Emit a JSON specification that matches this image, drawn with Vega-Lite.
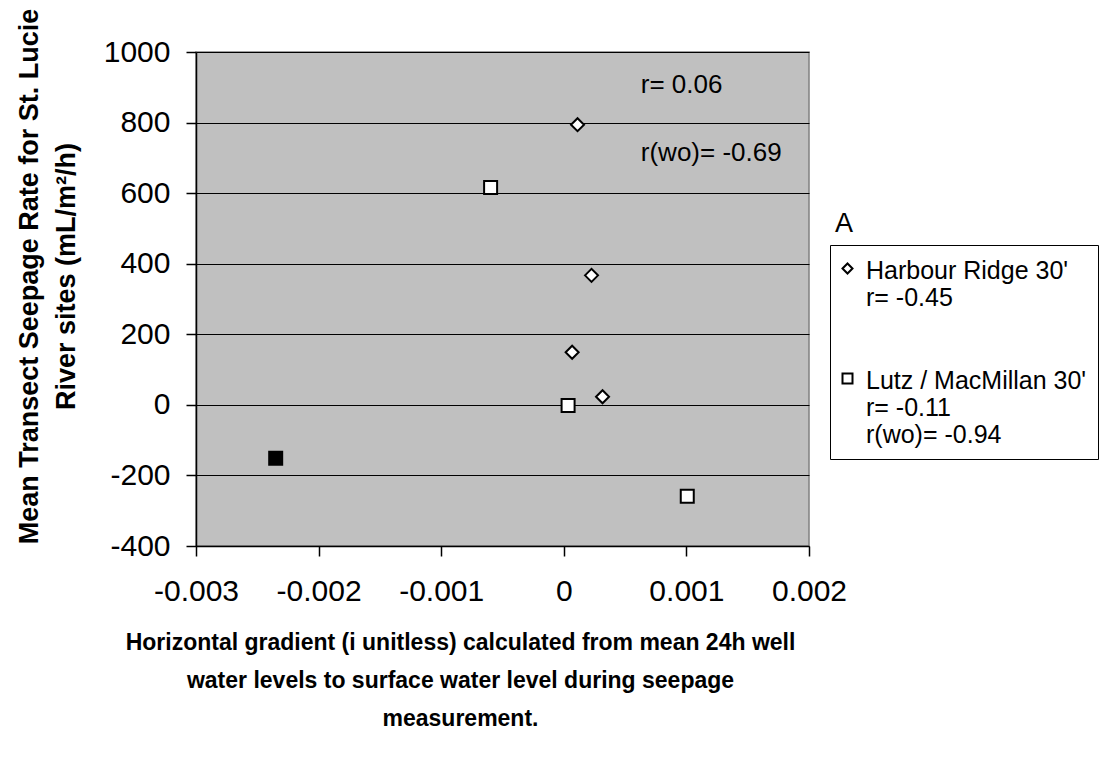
{
  "$schema": "https://vega.github.io/schema/vega-lite/v6.json",
  "width": 613,
  "height": 494,
  "autosize": {"type": "none"},
  "padding": {"left": 196, "top": 52, "right": 301, "bottom": 219},
  "background": "white",
  "config": {
    "font": "Liberation Sans",
    "locale": {"number": {"decimal": ".", "thousands": ",", "grouping": [3], "currency": ["$", ""], "minus": "-"}},
    "view": {"fill": "#C0C0C0", "stroke": "#808080", "strokeWidth": 1.5}
  },
  "title": {
    "text": "A",
    "orient": "top",
    "anchor": "start",
    "frame": "group",
    "offset": 0,
    "baseline": "alphabetic",
    "fontSize": 27,
    "fontWeight": "normal",
    "color": "black",
    "dx": 639,
    "dy": 251
  },
  "layer": [
    {
      "data": {
        "values": [
          {"x": 0.000112, "y": 794, "site": "Harbour Ridge 30'", "outlier": "no"},
          {"x": 0.000226, "y": 367, "site": "Harbour Ridge 30'", "outlier": "no"},
          {"x": 0.000068, "y": 149, "site": "Harbour Ridge 30'", "outlier": "no"},
          {"x": 0.000316, "y": 23, "site": "Harbour Ridge 30'", "outlier": "no"},
          {"x": -0.000597, "y": 616, "site": "Lutz / MacMillan 30'", "outlier": "no"},
          {"x": 0.000035, "y": -2, "site": "Lutz / MacMillan 30'", "outlier": "no"},
          {"x": 0.001007, "y": -259, "site": "Lutz / MacMillan 30'", "outlier": "no"},
          {"x": -0.00235, "y": -151, "site": "Lutz / MacMillan 30'", "outlier": "yes"}
        ]
      },
      "mark": {"type": "point", "filled": true, "stroke": "black", "strokeWidth": 2, "size": 169, "opacity": 1},
      "encoding": {
        "x": {
          "field": "x",
          "type": "quantitative",
          "scale": {"domain": [-0.003, 0.002], "nice": false, "zero": false},
          "axis": {
            "values": [-0.003, -0.002, -0.001, 0, 0.001, 0.002],
            "format": ".3~f",
            "grid": false,
            "domainColor": "black",
            "domainWidth": 1.5,
            "tickColor": "black",
            "tickWidth": 1.5,
            "tickSize": 10,
            "labelFontSize": 30,
            "labelColor": "black",
            "labelPadding": 20,
            "labelFlush": false,
            "labelOverlap": false,
            "title": ["Horizontal gradient (i unitless) calculated from mean 24h well", "water levels to surface water level during seepage", "measurement."],
            "titleFontSize": 23,
            "titleFontWeight": "bold",
            "titleColor": "black",
            "titleLineHeight": 38,
            "titleAlign": "center",
            "titleBaseline": "top",
            "titleX": 264,
            "titleY": 85
          }
        },
        "y": {
          "field": "y",
          "type": "quantitative",
          "scale": {"domain": [-400, 1000], "nice": false, "zero": false},
          "axis": {
            "values": [-400, -200, 0, 200, 400, 600, 800, 1000],
            "format": "d",
            "grid": true,
            "gridColor": "black",
            "gridWidth": 1,
            "gridOpacity": 1,
            "domainColor": "black",
            "domainWidth": 1.5,
            "tickColor": "black",
            "tickWidth": 1.5,
            "tickSize": 10,
            "labelFontSize": 30,
            "labelColor": "black",
            "labelPadding": 16,
            "labelFlush": false,
            "labelOverlap": false,
            "title": ["Mean Transect Seepage Rate for St. Lucie", "River sites (mL/m²/h)"],
            "titleFontSize": 27,
            "titleFontWeight": "bold",
            "titleColor": "black",
            "titleLineHeight": 37,
            "titleAngle": -90,
            "titleAlign": "center",
            "titleBaseline": "top",
            "titleX": -180,
            "titleY": 224
          }
        },
        "shape": {
          "field": "site",
          "type": "nominal",
          "scale": {"domain": ["Harbour Ridge 30'", "Lutz / MacMillan 30'"], "range": ["diamond", "square"]},
          "legend": {
            "orient": "none",
            "legendX": 634,
            "legendY": 193,
            "title": null,
            "fillColor": "white",
            "strokeColor": "black",
            "padding": 11,
            "rowPadding": 55,
            "symbolSize": 100,
            "symbolOffset": -6,
            "symbolFillColor": "white",
            "symbolStrokeColor": "black",
            "symbolStrokeWidth": 2,
            "labelFontSize": 25,
            "labelColor": "black",
            "labelLimit": 400,
            "labelOffset": 6,
            "labelBaseline": "top",
            "labelExpr": "indexof(datum.label, 'Harbour') >= 0 ? [datum.label, 'r= -0.45'] : [datum.label, 'r= -0.11', 'r(wo)= -0.94']",
            "encoding": {"labels": {"dy": {"value": -10}}}
          }
        },
        "fill": {
          "field": "outlier",
          "type": "nominal",
          "scale": {"domain": ["no", "yes"], "range": ["white", "black"]},
          "legend": null
        }
      }
    },
    {
      "data": {
        "values": [
          {"x": 0.000628, "y": 907, "label": "r= 0.06"},
          {"x": 0.000628, "y": 714, "label": "r(wo)= -0.69"}
        ]
      },
      "mark": {"type": "text", "align": "left", "baseline": "middle", "fontSize": 26, "color": "black"},
      "encoding": {
        "x": {"field": "x", "type": "quantitative"},
        "y": {"field": "y", "type": "quantitative"},
        "text": {"field": "label"}
      }
    }
  ]
}
